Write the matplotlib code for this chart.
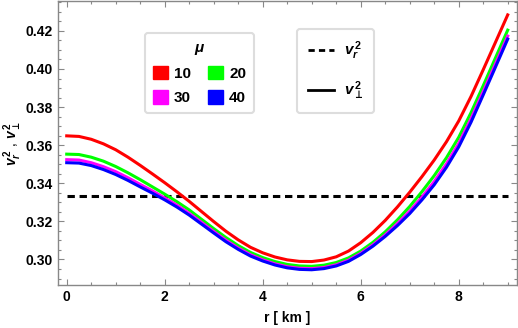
import matplotlib
matplotlib.use("Agg")
import matplotlib.pyplot as plt
from matplotlib.patches import Patch
from matplotlib.lines import Line2D
from matplotlib.ticker import MultipleLocator, FormatStrFormatter

plt.rcParams['font.family'] = ['Liberation Sans', 'DejaVu Sans']
plt.rcParams['font.weight'] = 'bold'
plt.rcParams['mathtext.fontset'] = 'custom'
plt.rcParams['mathtext.it'] = 'Liberation Sans:italic:bold'
plt.rcParams['mathtext.rm'] = 'Liberation Sans:bold'
plt.rcParams['mathtext.bf'] = 'Liberation Sans:bold'
plt.rcParams['mathtext.fallback'] = 'stixsans'
plt.rcParams['lines.scale_dashes'] = False

# radius in km
r = [0, 0.25, 0.5, 0.75, 1, 1.25, 1.5, 1.75, 2, 2.25, 2.5, 2.75, 3, 3.25, 3.5, 3.75,
     4, 4.25, 4.5, 4.75, 5, 5.25, 5.5, 5.75, 6, 6.25, 6.5, 6.75, 7, 7.25, 7.5, 7.75,
     8, 8.25, 8.5, 8.75, 9]

# v_perp^2 for each mu
mu_10 = [0.3649, 0.3646, 0.3631, 0.3607, 0.3576, 0.3537, 0.3494, 0.3449, 0.3403, 0.3355,
         0.3305, 0.3252, 0.3199, 0.3148, 0.3103, 0.3064, 0.3035, 0.3013, 0.2998, 0.2990,
         0.2989, 0.2997, 0.3014, 0.3044, 0.3088, 0.3142, 0.3205, 0.3276, 0.3353, 0.3435,
         0.3522, 0.3618, 0.3727, 0.3855, 0.3996, 0.4140, 0.4284]
mu_20 = [0.3553, 0.3551, 0.3537, 0.3516, 0.3488, 0.3455, 0.3419, 0.3381, 0.3343, 0.3303,
         0.3260, 0.3211, 0.3162, 0.3115, 0.3073, 0.3037, 0.3010, 0.2989, 0.2974, 0.2966,
         0.2964, 0.2970, 0.2984, 0.3008, 0.3044, 0.3090, 0.3145, 0.3208, 0.3278, 0.3356,
         0.3440, 0.3534, 0.3641, 0.3770, 0.3912, 0.4058, 0.4204]
mu_30 = [0.3524, 0.3522, 0.3508, 0.3487, 0.3461, 0.3429, 0.3394, 0.3360, 0.3323, 0.3285,
         0.3242, 0.3195, 0.3147, 0.3101, 0.3060, 0.3025, 0.2998, 0.2977, 0.2962, 0.2954,
         0.2952, 0.2958, 0.2972, 0.2996, 0.3032, 0.3077, 0.3129, 0.3189, 0.3254, 0.3328,
         0.3409, 0.3502, 0.3609, 0.3738, 0.3881, 0.4027, 0.4173]
mu_40 = [0.3508, 0.3506, 0.3493, 0.3472, 0.3446, 0.3415, 0.3381, 0.3348, 0.3313, 0.3275,
         0.3233, 0.3186, 0.3139, 0.3093, 0.3053, 0.3018, 0.2992, 0.2971, 0.2956, 0.2948,
         0.2946, 0.2952, 0.2966, 0.2990, 0.3026, 0.3070, 0.3121, 0.3178, 0.3241, 0.3313,
         0.3392, 0.3484, 0.3591, 0.3720, 0.3864, 0.4010, 0.4157]

# v_r^2 (constant)
vr2 = 1 / 3

mu_labels = ["10", "20", "30", "40"]
colors = ["#ff0000", "#00ff00", "#ff00ff", "#0000ff"]

fig = plt.figure(figsize=(5.18, 3.28), dpi=100)
ax = fig.add_axes([0.1114, 0.1311, 0.8867, 0.8659])

ax.plot([0, 9], [vr2, vr2], color="black", lw=2.2, dashes=(5.3, 3.4))
for vals, c in zip([mu_10, mu_20, mu_30, mu_40], colors):
    ax.plot(r, vals, color=c, lw=2.2)

ax.set_xlim(-0.184, 9.19)
ax.set_ylim(0.2866, 0.4357)

ax.xaxis.set_major_locator(MultipleLocator(2))
ax.xaxis.set_minor_locator(MultipleLocator(0.5))
ax.yaxis.set_major_locator(MultipleLocator(0.02))
ax.yaxis.set_minor_locator(MultipleLocator(0.005))
ax.yaxis.set_major_formatter(FormatStrFormatter('%.2f'))
ax.tick_params(which="both", direction="in", top=True, right=True, color="#888888",
               labelsize=10, labelcolor="black")
ax.tick_params(which="major", length=4.5, width=0.8)
ax.tick_params(which="minor", length=2.5, width=0.8)
for s in ax.spines.values():
    s.set_color("#888888")
    s.set_linewidth(1.0)

ax.set_xlabel("r [ km ]", fontsize=10, fontweight="bold", labelpad=5)
ax.set_ylabel(r"$v_r^{\,2}$ , $v_\bot^{\,2}$", fontsize=10, labelpad=1)

# legend for mu (order so rows read 10 20 / 30 40)
order = [0, 2, 1, 3]
h1 = [Patch(facecolor=colors[i], edgecolor=colors[i]) for i in order]
leg1 = ax.legend(h1, [mu_labels[i] for i in order], title=r"$\mu$", ncol=2, loc="upper left",
                 bbox_to_anchor=(145 / 518, 1 - 33 / 328), bbox_transform=fig.transFigure,
                 borderaxespad=0, fontsize=11, title_fontsize=11, handlelength=1.0,
                 handleheight=1.0, handletextpad=0.4, columnspacing=1.1,
                 labelspacing=0.6, borderpad=0.5, frameon=True, fancybox=True, framealpha=1)
leg1.get_frame().set_edgecolor("#dddddd")
leg1.get_frame().set_linewidth(1.5)
ax.add_artist(leg1)

# legend for line style
h2 = [Line2D([0], [0], color="black", lw=2.0, dashes=(4.5, 3.0)),
      Line2D([0], [0], color="black", lw=2.0)]
leg2 = ax.legend(h2, [r"$v_r^{\,2}$", r"$v_\bot^{\,2}$"], loc="upper left",
                 bbox_to_anchor=(297 / 518, 1 - 29 / 328), bbox_transform=fig.transFigure,
                 borderaxespad=0, fontsize=11, handlelength=1.7, handletextpad=0.7,
                 labelspacing=1.15, borderpad=0.7, frameon=True, fancybox=True,
                 framealpha=1)
leg2.get_frame().set_edgecolor("#dddddd")
leg2.get_frame().set_linewidth(1.5)

fig.savefig("out.png", dpi=100)
